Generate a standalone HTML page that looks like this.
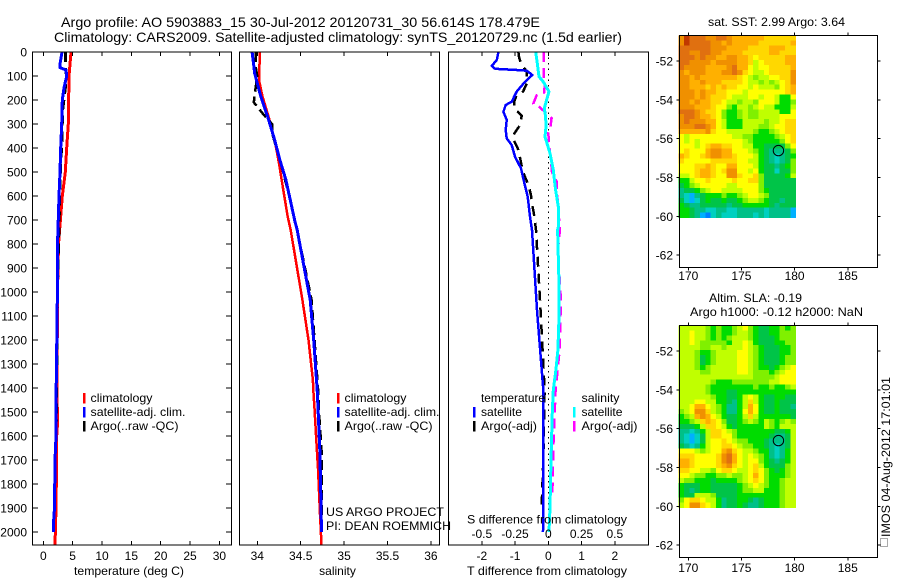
<!DOCTYPE html>
<html lang="en">
<head>
<meta charset="utf-8">
<title>Argo profile</title>
<style>
html,body{margin:0;padding:0;background:#fff;width:900px;height:580px;overflow:hidden}
svg{display:block}
text{font-family:"Liberation Sans",sans-serif;font-size:12px;fill:#000}
</style>
</head>
<body>
<svg id="fig" width="900" height="580" viewBox="0 0 900 580" xmlns="http://www.w3.org/2000/svg">
  <rect width="900" height="580" fill="#fff"/>
  <text x="61" y="27" style="font-size:14px" textLength="479" lengthAdjust="spacingAndGlyphs">Argo profile: AO 5903883_15 30-Jul-2012 20120731_30 56.614S 178.479E</text>
  <text x="54" y="42" style="font-size:14px" textLength="568" lengthAdjust="spacingAndGlyphs">Climatology: CARS2009. Satellite-adjusted climatology: synTS_20120729.nc (1.5d earlier)</text>
  <g id="p1"></g>
  <g id="p2"></g>
  <g id="p3"></g>
  <g id="m1"></g>
  <g id="m2"></g>
  <text x="326" y="516" textLength="118" lengthAdjust="spacingAndGlyphs">US ARGO PROJECT</text>
  <text x="326" y="530" textLength="125" lengthAdjust="spacingAndGlyphs">PI: DEAN ROEMMICH</text>
  <text x="708" y="26" textLength="137" lengthAdjust="spacingAndGlyphs">sat. SST: 2.99 Argo: 3.64</text>
  <text x="709" y="302" textLength="93" lengthAdjust="spacingAndGlyphs">Altim. SLA: -0.19</text>
  <text x="690" y="316" textLength="173" lengthAdjust="spacingAndGlyphs">Argo h1000: -0.12 h2000: NaN</text>
  <rect x="880.5" y="538.5" width="7" height="8" fill="none" stroke="#555" stroke-width="1" stroke-dasharray="1 1"/>
  <text transform="translate(890,537) rotate(-90)" textLength="160" lengthAdjust="spacingAndGlyphs">IMOS 04-Aug-2012 17:01:01</text>
</svg>
<script>
const depthTicks = [0,100,200,300,400,500,600,700,800,900,1000,1100,1200,1300,1400,1500,1600,1700,1800,1900,2000];
const tempTicks = [0,5,10,15,20,25,30];
const salTicks = [34,34.5,35,35.5,36];
const salTickLabels = ['34','34.5','35','35.5','36'];
const diffTTicks = [-2,-1,0,1,2];
const diffSTicks = [-0.5,-0.25,0,0.25,0.5];
const diffSTickLabels = ['-0.5','-0.25','0','0.25','0.5'];
const lonTicks = [170,175,180,185];
const latTicks = [52,54,56,58,60,62];

const tempClimDepth = [0,100,300,400,500,600,800,1000,1400,1550,1600,1800,1900,2054];
const tempClim = [4.72,4.38,4.26,3.99,3.75,3.24,2.59,2.42,2.33,2.42,2.28,2.21,2.16,1.99];
const tempSatDepth = [0,50,65,75,100,150,200,300,400,500,600,800,1000,1400,1600,1700,1900,1950,2000];
const tempSat = [3.19,2.85,2.85,3.87,3.99,3.53,3.24,3.13,2.96,2.85,2.67,2.42,2.4,2.2,2.16,1.99,1.91,1.77,1.77];
const tempArgoDepth = [0,70,100,150,250,350,500,1000,1570];
const tempArgo = [3.8,3.8,3.95,3.75,3.25,3.2,2.9,2.4,2.2];

const salClimDepth = [0,117,186,270,367,464,575,686,742,1033,1200,1367,1408,1492,1617,1742,1908,2054];
const salClim = [34.03,34.02,34.06,34.13,34.20,34.25,34.30,34.35,34.385,34.52,34.59,34.64,34.645,34.66,34.68,34.70,34.72,34.74];
const salSatDepth = [0,89,186,270,367,450,533,617,700,742,1033,1200,1408,1492,1658,1825,2000];
const salSat = [33.94,33.97,34.04,34.12,34.20,34.26,34.33,34.38,34.43,34.46,34.61,34.65,34.69,34.70,34.72,34.73,34.74];
const salArgoDepth = [0,60,100,150,210,260,300,350,450,617,742,1033,1408,1492,1658,1825,2000];
const salArgo = [33.98,33.98,34.0,33.98,33.96,34.07,34.17,34.18,34.26,34.38,34.46,34.625,34.70,34.71,34.74,34.74,34.74];

const dTSatDepth = [0,33,58,70,75,78,96,124,165,207,221,249,283,325,360,388,436,485,547,603,686,742,1075,1408,1700,2000];
const dTSat = [-1.5,-1.55,-1.70,-1.60,-0.95,-0.65,-0.48,-0.70,-0.95,-1.10,-1.28,-1.35,-1.25,-1.28,-1.25,-1.10,-1.0,-0.82,-0.72,-0.62,-0.55,-0.49,-0.34,-0.15,-0.15,-0.16];
const dTArgoDepth = [0,20,50,80,110,130,165,180,207,235,265,305,345,365,400,420,460,490,515,540,575,597,640,660,695,742,1033,1242,1408,1700,1900];
const dTArgo = [-0.9,-0.88,-0.82,-0.65,-0.65,-0.64,-0.76,-0.95,-1.03,-1.03,-0.80,-0.85,-1.05,-1.05,-0.92,-0.88,-0.82,-0.78,-0.72,-0.64,-0.56,-0.52,-0.48,-0.45,-0.41,-0.37,-0.25,-0.17,-0.11,-0.15,-0.2];
const dSSatDepth = [0,47,103,124,165,200,235,270,311,353,422,492,575,644,728,742,950,1117,1242,1325,1408,1500,1700,1900,2000];
const dSSat = [-0.095,-0.0825,-0.07,-0.0375,0.005,-0.0125,-0.03,-0.02,-0.0175,-0.025,0.0125,0.0375,0.055,0.075,0.075,0.07,0.08,0.08,0.0725,0.0575,0.0375,0.03,0.02,0.0125,0.005];
const dSArgoDepth = [0,110,130,170,180,215,225,250,275,315,335,385,455,500,540,600,742,825,1033,1242,1408,1650,1850];
const dSArgo = [-0.035,-0.035,-0.025,-0.0325,-0.0875,-0.1125,-0.075,-0.025,0.025,0.015,0,0.005,0.02,0.0275,0.0625,0.0675,0.0875,0.0725,0.095,0.085,0.055,0.0375,0.03];

const floatLon = 178.479;
const floatLat = 56.614;

const mapPalette = ['#0080ff','#00b0ff','#00d0c0','#00c088','#00c448','#00dc00','#80f000','#c0ff00','#ffff00','#ffd800','#ffb000','#f09000','#e07010','#c03800'];

const sstRows = [
[11,13,12,12,12,11,11,12,12,11,10,10,10,10,10,10,9,9,9,9,9,9],
[11,13,12,12,12,12,11,11,10,11,10,10,10,10,10,9,9,9,9,9,9,10],
[12,12,12,12,12,12,11,11,11,10,10,10,10,9,9,9,9,10,10,10,9,9],
[12,12,11,11,12,12,11,11,10,10,10,10,9,9,9,9,9,10,10,9,9,9],
[12,12,12,11,12,11,11,10,10,11,11,10,10,9,8,9,9,9,9,9,10,10],
[12,12,11,11,11,11,10,11,11,11,11,10,10,9,7,8,9,9,9,9,10,10],
[12,11,11,11,11,10,10,10,10,11,12,10,10,8,7,8,8,9,9,9,9,10],
[11,10,11,11,11,10,10,10,11,11,12,11,9,8,7,7,8,9,9,9,9,11],
[11,11,10,11,10,10,10,10,10,10,10,9,8,7,6,7,7,8,8,9,9,11],
[11,11,10,10,11,10,10,10,9,9,9,9,8,7,7,6,7,6,7,8,9,11],
[11,11,10,10,10,9,10,9,10,9,9,8,8,7,8,7,7,7,6,8,9,10],
[11,11,11,10,11,10,10,9,9,8,8,8,7,8,8,8,8,8,8,8,9,10],
[11,11,11,10,11,10,9,9,9,8,7,7,7,8,8,7,8,8,7,5,5,8],
[11,11,10,11,10,10,9,9,8,7,7,6,7,7,6,8,8,8,7,5,5,6],
[11,11,11,10,10,10,9,8,8,6,5,7,7,6,7,8,7,7,5,5,5,7],
[12,12,12,11,10,9,9,8,6,5,5,6,7,6,6,7,7,7,7,5,5,8],
[11,12,12,11,10,10,9,8,6,5,5,6,7,6,6,7,7,7,7,8,8,8],
[11,12,11,11,11,10,10,8,7,5,5,5,7,7,7,7,6,7,7,8,9,9],
[11,11,11,12,12,11,10,8,7,5,5,5,7,7,7,6,6,7,8,8,9,9],
[10,10,10,10,10,11,9,8,8,7,7,7,7,7,6,5,5,6,7,8,9,9],
[8,7,8,8,8,8,8,8,8,8,7,7,6,6,5,5,5,5,6,7,8,9],
[8,7,8,7,8,8,8,8,8,8,8,8,7,6,5,5,5,5,5,6,8,9],
[8,8,8,7,8,9,10,10,9,9,8,8,7,7,5,5,4,4,4,4,6,8],
[8,9,8,8,8,10,11,11,10,10,8,8,8,7,6,5,4,3,3,3,4,6],
[10,9,8,8,9,10,11,11,10,10,9,8,8,8,7,5,4,3,2,3,4,5],
[9,8,8,8,8,8,9,9,9,9,9,8,8,7,7,5,4,3,2,3,4,6],
[8,8,8,9,9,10,9,8,8,10,10,8,8,8,7,5,4,4,3,4,5,6],
[8,8,8,9,10,10,9,8,9,11,11,8,8,7,8,5,4,4,2,4,4,6],
[7,7,8,9,10,10,9,8,8,11,11,9,8,8,9,6,4,4,4,4,5,7],
[5,5,7,8,8,9,8,8,8,8,9,8,8,9,9,6,4,4,4,4,4,4],
[4,5,6,7,8,8,8,8,8,7,7,8,8,8,8,6,4,4,4,4,4,4],
[3,4,4,5,6,7,8,8,7,7,7,7,8,8,8,6,5,4,4,4,4,4],
[3,2,1,3,4,5,5,5,6,5,5,6,7,8,8,7,6,4,4,4,4,4],
[4,2,1,2,4,5,4,4,5,4,4,5,6,7,7,6,5,4,4,3,4,4],
[5,4,3,3,4,4,4,4,4,3,4,4,5,5,5,5,5,4,3,4,4,4],
[5,5,4,3,3,2,2,3,3,2,2,3,3,3,3,3,2,3,3,3,3,1],
[5,5,4,3,1,0,2,3,2,2,2,3,3,3,2,3,2,3,3,3,3,1]
];

const slaRows = [
[7,7,7,7,7,6,5,6,5,5,6,7,8,6,5,4,4,5,5,6,5,6],
[7,7,8,7,7,6,5,6,5,5,6,7,7,6,5,4,4,5,5,6,6,6],
[7,7,8,7,7,6,5,6,5,6,7,7,7,6,5,4,4,4,5,6,6,6],
[7,7,8,7,6,6,6,6,6,5,7,7,8,7,5,4,4,4,5,5,6,6],
[7,7,7,7,6,6,7,7,6,7,7,7,8,7,6,5,4,4,4,5,5,6],
[7,7,7,6,5,5,6,7,7,7,7,8,8,7,6,5,4,4,4,5,5,6],
[7,7,7,6,4,5,6,7,7,7,7,8,8,7,6,5,4,4,4,5,6,6],
[7,7,7,6,4,5,6,7,7,7,7,8,8,7,6,5,4,4,4,5,6,6],
[7,7,7,6,5,6,7,7,7,7,7,8,8,7,6,5,5,4,5,6,7,8],
[7,7,7,7,6,6,7,7,7,7,7,8,8,7,6,6,6,5,6,7,8,8],
[7,7,7,7,7,7,7,7,7,7,7,7,7,7,6,6,6,6,7,8,8,8],
[7,7,7,7,7,7,6,5,5,5,6,6,6,6,6,6,6,7,7,8,8,8],
[7,7,7,7,7,6,5,5,5,5,5,5,5,5,6,5,5,6,5,5,6,7],
[7,7,7,7,7,6,5,5,5,4,4,5,5,5,5,5,5,5,5,5,5,5],
[7,7,7,7,7,7,6,5,5,4,4,5,7,8,7,5,4,4,5,5,4,4],
[7,7,7,8,8,7,7,5,5,4,3,5,7,9,7,5,4,4,5,4,4,4],
[7,7,8,10,10,8,7,6,5,3,3,5,7,10,8,5,4,4,5,4,4,3],
[6,7,8,11,11,9,7,6,5,3,3,5,8,10,8,5,4,4,5,4,4,4],
[5,6,7,10,11,10,8,7,5,4,4,5,7,9,7,5,5,5,5,5,5,4],
[5,5,6,7,9,10,9,8,6,4,4,5,6,7,6,5,7,6,5,6,7,6],
[4,4,4,5,7,9,9,8,7,5,4,5,5,5,5,5,7,6,5,7,7,7],
[3,3,2,3,5,7,9,9,8,7,6,5,5,5,5,5,5,5,4,4,5,7],
[3,2,1,2,4,7,9,9,8,8,6,5,5,5,5,5,5,4,3,3,4,7],
[3,2,1,2,4,7,8,8,9,8,7,6,6,5,5,5,4,3,3,3,4,7],
[4,3,2,3,5,7,8,8,9,9,8,7,6,6,5,5,4,3,2,3,4,7],
[8,8,8,7,6,7,8,8,10,11,9,8,7,7,6,5,5,3,2,3,5,7],
[9,9,9,8,8,8,8,9,11,12,10,8,7,8,7,6,5,3,2,3,5,7],
[10,10,9,8,8,8,8,9,11,12,10,8,7,8,8,6,5,4,3,4,5,7],
[10,10,9,8,8,8,8,9,10,11,9,8,7,8,9,7,5,4,4,4,6,7],
[9,9,8,8,7,7,6,8,9,9,8,7,7,8,9,8,6,5,4,5,6,7],
[8,8,7,6,6,5,5,6,6,7,6,6,7,8,10,8,6,5,5,5,6,7],
[7,6,6,5,5,5,4,5,5,5,5,6,7,8,9,8,6,5,5,6,7,7],
[5,4,4,4,5,5,4,4,4,4,4,5,6,7,8,7,6,5,5,6,7,7],
[5,4,3,4,5,5,4,4,4,4,4,5,6,6,7,7,5,5,5,6,7,7],
[5,4,4,7,7,7,6,4,4,4,4,5,5,5,5,5,5,5,5,6,7,7],
[6,8,9,9,8,7,7,5,3,4,4,5,5,4,3,4,5,5,5,6,7,7],
[7,8,11,11,9,8,7,5,3,4,4,5,4,3,3,4,5,5,5,6,7,7]
];

const SVGNS = 'http://www.w3.org/2000/svg';
function mk(parent, tag, attrs, txt) {
  const el = document.createElementNS(SVGNS, tag);
  for (const k in attrs) el.setAttribute(k, attrs[k]);
  if (txt !== undefined) el.textContent = txt;
  parent.appendChild(el);
  return el;
}

const yD = d => 52 + d * 0.24;
const xT = t => 43.3 + t * 5.87;
const xS = s => 257.3 + (s - 34) * 86.8;
const xDT = t => 548.3 + t * 33.25;
const xDS = s => 548.3 + s * 133;
const TOP = 52, BOT = 545;

function frame(g, x0, x1, y0, y1, name) {
  const r = mk(g, 'rect', {x:x0, y:y0, width:x1-x0, height:y1-y0, fill:'none', stroke:'#000', 'stroke-width':1, 'shape-rendering':'crispEdges'});
  
  
}
function tick(g, x1, y1, x2, y2, name) {
  const l = mk(g, 'line', {x1:x1, y1:y1, x2:x2, y2:y2, stroke:'#000', 'stroke-width':1, 'shape-rendering':'crispEdges'});
  
  
}
function profile(g, depths, vals, xf, color, dash, w, name) {
  const pts = depths.map((d, i) => xf(vals[i]).toFixed(1) + ',' + yD(d).toFixed(1)).join(' ');
  const attrs = {points:pts, fill:'none', stroke:color, 'stroke-width':w, 'shape-rendering':'crispEdges', 'stroke-linejoin':'round'};
  if (dash) attrs['stroke-dasharray'] = dash;
  const p = mk(g, 'polyline', attrs);
  
  
}
function legendRow(g, barX, textX, baseline, color, label, name, len) {
  const b = mk(g, 'rect', {x:barX, y:baseline-9, width:2.5, height:10.5, fill:color, 'shape-rendering':'crispEdges'});
  
  
  const t = mk(g, 'text', {x:textX, y:baseline, textLength:len, lengthAdjust:'spacingAndGlyphs'}, label);
  
  
}

/* temperature panel */
const p1 = document.getElementById('p1');
profile(p1, tempClimDepth, tempClim, xT, '#ff0000', null, 3, 'temperature-climatology-line');
profile(p1, tempArgoDepth, tempArgo, xT, '#000000', '10 6', 3, 'temperature-argo-line');
profile(p1, tempSatDepth, tempSat, xT, '#0000ff', null, 3, 'temperature-satellite-line');
frame(p1, 32.5, 231.5, TOP, BOT, 'temperature-axes-frame');
depthTicks.forEach(d => {
  tick(p1, 32.5, yD(d), 38, yD(d), 'depth-tick-left');
  tick(p1, 226, yD(d), 231.5, yD(d), 'depth-tick-right');
  const t = mk(p1, 'text', {x:27, y:yD(d)+4.5, 'text-anchor':'end'}, String(d));
  
  
});
tempTicks.forEach(v => {
  tick(p1, xT(v), TOP, xT(v), TOP+4, 'temperature-tick-top');
  tick(p1, xT(v), BOT-4, xT(v), BOT, 'temperature-tick-bottom');
  const t = mk(p1, 'text', {x:xT(v), y:560, 'text-anchor':'middle'}, String(v));
  
  
});
const xl1 = mk(p1, 'text', {x:74, y:575, textLength:110, lengthAdjust:'spacingAndGlyphs'}, 'temperature (deg C)');


legendRow(p1, 83, 90.5, 402, '#ff0000', 'climatology', 'temperature-legend-climatology', 62);
legendRow(p1, 83, 90.5, 416, '#0000ff', 'satellite-adj. clim.', 'temperature-legend-satellite', 95);
legendRow(p1, 83, 90.5, 430, '#000000', 'Argo(..raw -QC)', 'temperature-legend-argo', 88);

/* salinity panel */
const p2 = document.getElementById('p2');
profile(p2, salClimDepth, salClim, xS, '#ff0000', null, 2.5, 'salinity-climatology-line');
profile(p2, salArgoDepth, salArgo, xS, '#000000', '10 5', 2.5, 'salinity-argo-line');
profile(p2, salSatDepth, salSat, xS, '#0000ff', null, 3, 'salinity-satellite-line');
frame(p2, 239.5, 439.5, TOP, BOT, 'salinity-axes-frame');
salTicks.forEach((v, i) => {
  tick(p2, xS(v), TOP, xS(v), TOP+4, 'salinity-tick-top');
  tick(p2, xS(v), BOT-4, xS(v), BOT, 'salinity-tick-bottom');
  const t = mk(p2, 'text', {x:xS(v), y:560, 'text-anchor':'middle'}, salTickLabels[i]);
  
  
});
const xl2 = mk(p2, 'text', {x:337.5, y:575, 'text-anchor':'middle'}, 'salinity');


legendRow(p2, 337, 344.5, 402, '#ff0000', 'climatology', 'salinity-legend-climatology', 62);
legendRow(p2, 337, 344.5, 416, '#0000ff', 'satellite-adj. clim.', 'salinity-legend-satellite', 95);
legendRow(p2, 337, 344.5, 430, '#000000', 'Argo(..raw -QC)', 'salinity-legend-argo', 88);

/* difference panel */
const p3 = document.getElementById('p3');
const zero = mk(p3, 'line', {x1:xDT(0), y1:TOP, x2:xDT(0), y2:BOT, stroke:'#000', 'stroke-width':1, 'stroke-dasharray':'1.5 4', 'shape-rendering':'crispEdges'});


profile(p3, dSArgoDepth, dSArgo, xDS, '#ff00ff', '10 6', 2.5, 'salinity-difference-argo-line');
profile(p3, dSSatDepth, dSSat, xDS, '#00ffff', null, 3, 'salinity-difference-satellite-line');
profile(p3, dTArgoDepth, dTArgo, xDT, '#000000', '10 7', 2.5, 'temperature-difference-argo-line');
profile(p3, dTSatDepth, dTSat, xDT, '#0000ff', null, 2.5, 'temperature-difference-satellite-line');
frame(p3, 448.5, 648.5, TOP, BOT, 'difference-axes-frame');
diffTTicks.forEach(v => {
  tick(p3, xDT(v), TOP, xDT(v), TOP+4, 'temperature-difference-tick-top');
  tick(p3, xDT(v), BOT-4, xDT(v), BOT, 'temperature-difference-tick-bottom');
  const t = mk(p3, 'text', {x:xDT(v), y:560, 'text-anchor':'middle'}, String(v));
  
  
});
diffSTicks.forEach((v, i) => {
  const t = mk(p3, 'text', {x:xDS(v), y:538, 'text-anchor':'middle'}, diffSTickLabels[i]);
  
  
});
const xs3 = mk(p3, 'text', {x:467, y:523.5, textLength:160, lengthAdjust:'spacingAndGlyphs'}, 'S difference from climatology');


const xt3 = mk(p3, 'text', {x:467, y:575, textLength:160, lengthAdjust:'spacingAndGlyphs'}, 'T difference from climatology');


const lh1 = mk(p3, 'text', {x:481, y:402, textLength:64, lengthAdjust:'spacingAndGlyphs'}, 'temperature');


const lh2 = mk(p3, 'text', {x:581.5, y:402, textLength:38, lengthAdjust:'spacingAndGlyphs'}, 'salinity');


legendRow(p3, 473, 481, 416, '#0000ff', 'satellite', 'difference-legend-temperature-satellite', 41);
legendRow(p3, 473, 481, 430, '#000000', 'Argo(-adj)', 'difference-legend-temperature-argo', 56);
legendRow(p3, 573, 581.5, 416, '#00ffff', 'satellite', 'difference-legend-salinity-satellite', 41);
legendRow(p3, 573, 581.5, 430, '#ff00ff', 'Argo(-adj)', 'difference-legend-salinity-argo', 56);

/* maps */
const xLon = lon => 688.3 + (lon - 170) * 10.63;
function drawMap(g, rows, top, bottom, lat52Y, labelY, prefix) {
  const yLat = lat => lat52Y + (lat - 52) * 19.42;
  const lonStart = 169.1, lonStep = 0.5;
  const latStart = (top - lat52Y) / 19.42 + 52;
  const latStep = (60.06 - latStart) / rows.length;
  rows.forEach((row, r) => {
    row.forEach((v, c) => {
      const x0 = xLon(lonStart + c * lonStep), x1 = xLon(lonStart + (c + 1) * lonStep);
      const y0 = yLat(latStart + r * latStep), y1 = yLat(latStart + (r + 1) * latStep);
      const cell = mk(g, 'rect', {x:x0.toFixed(2), y:y0.toFixed(2), width:(x1-x0+0.3).toFixed(2), height:(y1-y0+0.3).toFixed(2), fill:mapPalette[v], 'shape-rendering':'crispEdges'});
      
      
    });
  });
  frame(g, 679.5, 877.5, top, bottom, prefix + '-axes-frame');
  lonTicks.forEach(v => {
    tick(g, xLon(v), top-3, xLon(v), top, prefix + '-longitude-tick-top');
    tick(g, xLon(v), bottom, xLon(v), bottom+3, prefix + '-longitude-tick-bottom');
    const t = mk(g, 'text', {x:xLon(v), y:labelY, 'text-anchor':'middle'}, String(v));
    
    
  });
  latTicks.forEach(v => {
    tick(g, 676.5, yLat(v), 679.5, yLat(v), prefix + '-latitude-tick-left');
    tick(g, 877.5, yLat(v), 880.5, yLat(v), prefix + '-latitude-tick-right');
    const t = mk(g, 'text', {x:673, y:yLat(v)+4.5, 'text-anchor':'end'}, '-' + v);
    
    
  });
  const marker = mk(g, 'circle', {cx:xLon(floatLon), cy:yLat(floatLat), r:5.2, fill:'none', stroke:'#000', 'stroke-width':1});
  
  
}
drawMap(document.getElementById('m1'), sstRows, 35.5, 267.5, 61, 280, 'sst-map');
drawMap(document.getElementById('m2'), slaRows, 325.5, 557.5, 351, 572, 'altimetry-map');
</script>
</body>
</html>
